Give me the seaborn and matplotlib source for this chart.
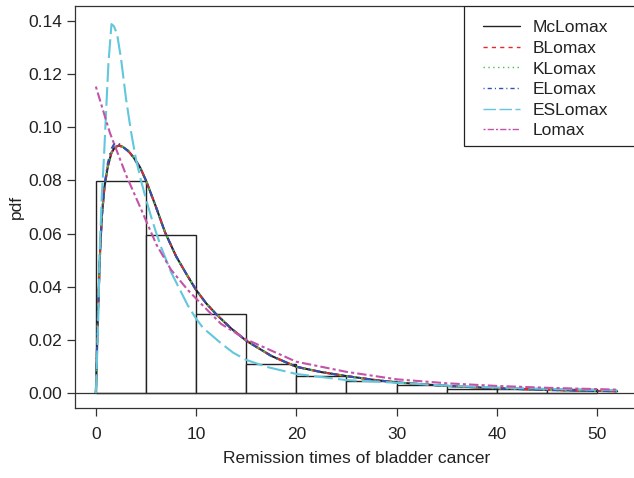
import numpy as np
import pandas as pd
import matplotlib
matplotlib.use("Agg")
import matplotlib.pyplot as plt
from matplotlib.lines import Line2D
from matplotlib.patches import Rectangle
import seaborn as sns

# ---------------- data ----------------
hist_edges = [0, 5, 10, 15, 20, 25, 30, 35, 40, 45, 50]
hist_density = [0.0797, 0.0594, 0.0297, 0.0109, 0.00625, 0.00469,
                0.003125, 0.0015625, 0.0015625, 0.0015625]

x_fit = [0, 0.2, 0.43, 0.6, 0.87, 1.2, 1.55, 1.9, 2.3, 2.7, 3.2, 3.7, 4.4,
         5.0, 6.0, 6.9, 8.0, 9.0, 10.0, 11.0, 12.0, 13.5, 15.0, 17.5, 20,
         22.5, 25, 27.5, 30, 35, 40, 45, 50, 52]
y_mclomax = [0, 0.0288, 0.054, 0.0665, 0.0778, 0.0853, 0.0903, 0.0925, 0.0931,
             0.0926, 0.0912, 0.0890, 0.0850, 0.0800, 0.0700, 0.0605, 0.0515,
             0.0450, 0.0388, 0.0338, 0.0297, 0.0243, 0.0197, 0.0140, 0.0099,
             0.0079, 0.0064, 0.0051, 0.0040, 0.0027, 0.0018, 0.0012, 0.0008,
             0.0007]
y_blomax = [0, 0.0290, 0.0542, 0.0666, 0.0779, 0.0854, 0.0904, 0.0926, 0.0931,
            0.0926, 0.0912, 0.0890, 0.0850, 0.0800, 0.0700, 0.0605, 0.0515,
            0.0450, 0.0388, 0.0338, 0.0297, 0.0243, 0.0197, 0.0140, 0.0099,
            0.0079, 0.0064, 0.0051, 0.0040, 0.0027, 0.0018, 0.0012, 0.0008,
            0.0007]
y_klomax = [0, 0.0289, 0.0541, 0.0666, 0.0779, 0.0854, 0.0904, 0.0926, 0.0931,
            0.0926, 0.0912, 0.0890, 0.0850, 0.0800, 0.0700, 0.0605, 0.0515,
            0.0450, 0.0388, 0.0338, 0.0297, 0.0243, 0.0197, 0.0140, 0.0099,
            0.0079, 0.0064, 0.0051, 0.0040, 0.0027, 0.0018, 0.0012, 0.0008,
            0.0007]
y_elomax = [0, 0.0285, 0.0540, 0.0668, 0.0785, 0.0866, 0.0918, 0.0942, 0.0937,
            0.0926, 0.0910, 0.0888, 0.0849, 0.0799, 0.0700, 0.0605, 0.0515,
            0.0450, 0.0388, 0.0338, 0.0297, 0.0243, 0.0197, 0.0140, 0.0099,
            0.0079, 0.0064, 0.0051, 0.0040, 0.0027, 0.0018, 0.0012, 0.0008,
            0.0007]

x_eslomax = [0, 0.2, 0.4, 0.6, 0.8, 1.03, 1.26, 1.56, 1.8, 2.12, 2.52, 3.0,
             3.5, 4.0, 4.5, 5.0, 5.5, 6.0, 6.5, 7.5, 9.17, 10.0, 10.7, 12.5,
             13.7, 15, 17, 20, 25, 30, 35, 40, 45, 50, 52]
y_eslomax = [0, 0.022, 0.055, 0.075, 0.088, 0.1067, 0.1243, 0.1388, 0.138,
             0.135, 0.1256, 0.1110, 0.0985, 0.0880, 0.0800, 0.0730, 0.0665,
             0.0605, 0.0550, 0.0455, 0.0330, 0.0280, 0.0245, 0.0187, 0.0152,
             0.0125, 0.0099, 0.0072, 0.0049, 0.0039, 0.0028, 0.0021, 0.0016,
             0.0012, 0.0011]

x_lomax = [0, 1.4, 3.06, 4.39, 6.05, 7.5, 9.17, 10.4, 12.5, 15, 17.5, 20, 25,
           30, 35, 40, 45, 50, 52]
y_lomax = [0.1153, 0.0979, 0.0816, 0.0702, 0.0558, 0.0464, 0.0388, 0.034,
           0.026, 0.0202, 0.0160, 0.0118, 0.0080, 0.0052, 0.0037, 0.0027,
           0.0020, 0.0015, 0.0013]

x_ticks = [0, 10, 20, 30, 40, 50]
y_ticks = [0.00, 0.02, 0.04, 0.06, 0.08, 0.10, 0.12, 0.14]

labels = ["McLomax", "BLomax", "KLomax", "ELomax", "ESLomax", "Lomax"]
colors = ["#222222", "#e8262d", "#45bf45", "#3550b0", "#62c6dc", "#c253a8"]
styles = ["-", (0, (3, 3)), (0, (1, 2.5)), (0, (0.8, 2.2, 3, 2.2)),
          (0, (9, 2.5)), (0, (1.5, 1.5, 4.5, 1.5))]

# ---------------- style ----------------
sns.set_theme(style="ticks")
plt.rcParams["font.family"] = ["Liberation Sans", "DejaVu Sans"]
plt.rcParams["text.color"] = "#222222"
plt.rcParams["axes.labelcolor"] = "#222222"
plt.rcParams["xtick.color"] = "#333333"
plt.rcParams["ytick.color"] = "#333333"
plt.rcParams["xtick.labelcolor"] = "#222222"
plt.rcParams["ytick.labelcolor"] = "#222222"

fig = plt.figure(figsize=(6.34, 4.78), dpi=100)
ax = fig.add_axes([75 / 634, 70 / 478, 563 / 634, 402 / 478])

# histogram
mids = [(a + b) / 2 for a, b in zip(hist_edges[:-1], hist_edges[1:])]
hist_df = pd.DataFrame({"x": mids, "w": hist_density})
sns.histplot(data=hist_df, x="x", weights="w", bins=hist_edges, stat="count",
             color="white", edgecolor="#222222", linewidth=1.0, alpha=1,
             ax=ax, zorder=1)

ax.axhline(0, color="#333333", lw=0.9, zorder=1.5)

# curves
curve_x = [x_fit, x_fit, x_fit, x_fit, x_eslomax, x_lomax]
curve_y = [y_mclomax, y_blomax, y_klomax, y_elomax, y_eslomax, y_lomax]
for i, (cx, cy) in enumerate(zip(curve_x, curve_y)):
    df = pd.DataFrame({"x": cx, "y": cy})
    sns.lineplot(data=df, x="x", y="y", ax=ax, color=colors[i],
                 linestyle=styles[i], linewidth=1.5, estimator=None,
                 zorder=2 + i)

ax.set_xlim(-2.08, 54.08)
ax.set_ylim(-0.0056, 0.1456)
ax.set_xticks(x_ticks)
ax.set_yticks(y_ticks)
ax.set_yticklabels([f"{v:.2f}" for v in y_ticks])
ax.set_xlabel("Remission times of bladder cancer", fontsize=12.5, labelpad=6)
ax.set_ylabel("pdf", fontsize=12.5, labelpad=3)
ax.tick_params(axis="both", labelsize=12.5, length=6, width=0.9)
ax.tick_params(axis="x", pad=8)
ax.tick_params(axis="y", pad=3.5)
for s in ax.spines.values():
    s.set_color("#333333")
    s.set_linewidth(0.9)

# legend box (R style, anchored at top right corner)
ax.add_patch(Rectangle((0.691, 0.652), 0.5, 0.348, transform=ax.transAxes,
                       facecolor="white", edgecolor="#222222", lw=0.9,
                       zorder=10))
handles = [Line2D([0], [0], color=c, linestyle=st, lw=1.0)
           for c, st in zip(colors, styles)]
leg = ax.legend(handles, labels, loc="upper left",
                bbox_to_anchor=(0.7087, 0.986), frameon=False,
                fontsize=12.5, borderpad=0.5, borderaxespad=0,
                handlelength=2.13, handletextpad=0.75, labelspacing=0.31)
leg.set_zorder(11)

fig.savefig("out.png", dpi=100)
